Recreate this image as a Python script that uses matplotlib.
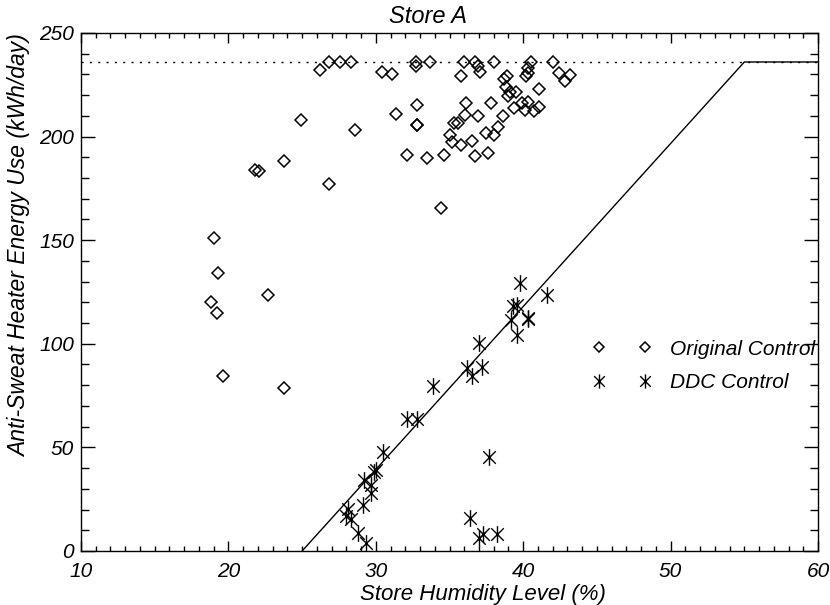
import matplotlib
matplotlib.use("Agg")
import matplotlib.pyplot as plt
from matplotlib.path import Path
import numpy as np

# Original control (diamonds)
orig_x = [26.8, 27.6, 28.3, 26.2, 24.9, 28.6, 23.8, 21.8, 22.1, 26.8,
          19.0, 19.3, 22.7, 18.8, 19.2, 19.6, 23.8,
          30.4, 31.1, 32.7, 32.7, 32.8, 33.7, 32.8, 31.4, 32.8, 32.1, 33.5,
          36.0, 36.7, 36.9, 37.1, 38.0, 35.8, 40.5, 40.3, 40.3, 40.2, 42.0,
          42.4, 42.8, 43.2, 38.9, 38.7, 38.8, 39.1, 39.5, 39.0, 41.1,
          36.1, 37.8, 36.05, 36.9, 39.4, 39.9, 40.3, 40.1, 40.7, 41.1, 38.6,
          35.3, 35.6, 35.0, 35.2, 35.8, 36.5, 37.5, 38.0, 38.3,
          34.6, 36.7, 37.6, 34.4]
orig_y = [236, 236, 236, 232, 208, 203, 188, 184, 183.5, 177,
          151, 134, 123.5, 120, 115, 84.5, 78.6,
          231, 230, 236, 234, 215, 236, 205.6, 211, 205.6, 191, 189.6,
          236, 236, 234, 231, 236, 229, 236, 233, 230.5, 229, 236,
          230.5, 227, 229.7, 229, 228, 224, 221.5, 221.5, 219.6, 223,
          216, 216, 210.4, 210, 213.8, 216, 216.7, 212.8, 212.4, 214.3, 210,
          206.6, 206.6, 200.8, 197.4, 196, 198, 201.7, 200.8, 204.6,
          191, 190.6, 192, 165.5]

# DDC control (asterisks)
ddc_x = [39.8, 41.6, 39.3, 39.6, 39.2, 40.3, 40.35, 39.6, 37.0, 36.2,
         37.2, 36.5, 33.9, 32.1, 32.8, 30.5, 37.7, 30.0, 29.9, 29.2,
         29.7, 29.7, 29.1, 28.1, 28.0, 28.3, 28.8, 29.3, 36.4, 37.0,
         37.3, 38.2]
ddc_y = [129.3, 123.6, 118.2, 118.7, 111.5, 112.4, 112.0, 104.2, 100.4, 88.3,
         88.8, 84.5, 79.6, 63.7, 63.7, 47.8, 45.4, 39.1, 38.1, 34.3,
         31.9, 28.0, 22.2, 20.3, 16.9, 15.4, 8.7, 3.9, 15.9, 6.3,
         8.2, 8.2]

# Control lines
line_x = [25, 55, 60]
line_y = [0, 236, 236]
limit_y = 236

title = "Store A"
xlabel = "Store Humidity Level (%)"
ylabel = "Anti-Sweat Heater Energy Use (kWh/day)"
labels = ["Original Control", "DDC Control"]

FONT = ['Liberation Sans Narrow', 'Liberation Sans', 'DejaVu Sans']
plt.rcParams['font.family'] = FONT
plt.rcParams['font.style'] = 'italic'

fig = plt.figure(figsize=(8.3, 6.05), dpi=100)
ax = fig.add_axes([0.0976, 0.0893, 0.888, 0.8562])

star = Path([(0, -1), (0, 1), (-0.75, -0.75), (0.75, 0.75), (-0.75, 0.75), (0.75, -0.75)],
            [Path.MOVETO, Path.LINETO, Path.MOVETO, Path.LINETO, Path.MOVETO, Path.LINETO])

ax.plot(orig_x, orig_y, linestyle='none', marker='D', markersize=6.5,
        markerfacecolor='none', markeredgecolor='black', markeredgewidth=1.1,
        label=labels[0])
ax.plot(ddc_x, ddc_y, linestyle='none', marker=star, markersize=12,
        markerfacecolor='none', markeredgecolor='black', markeredgewidth=1.0,
        label=labels[1])

ax.plot(line_x, line_y, color='black', lw=1.0)
ax.axhline(limit_y, color='black', lw=1.0, linestyle=(0, (1.5, 4.5)))

ax.set_xlim(10, 60)
ax.set_ylim(0, 250)
ax.set_xticks(np.arange(10, 61, 10))
ax.set_xticks(np.arange(10, 61, 1), minor=True)
ax.set_yticks(np.arange(0, 251, 50))
ax.set_yticks(np.arange(0, 251, 10), minor=True)

ax.tick_params(axis='both', which='both', direction='in', top=True, right=True,
               width=1.0, labelsize=15)
ax.tick_params(axis='x', which='major', length=7.5, pad=8)
ax.tick_params(axis='x', which='minor', length=3.8)
ax.tick_params(axis='y', which='major', length=10, pad=5)
ax.tick_params(axis='y', which='minor', length=5.5)

for s in ax.spines.values():
    s.set_linewidth(1.0)

ax.set_title(title, fontsize=17, x=0.471, pad=7)
ax.set_xlabel(xlabel, fontsize=16)
ax.xaxis.set_label_coords(0.545, -0.064)
ax.set_ylabel(ylabel, fontsize=16.5)
ax.yaxis.set_label_coords(-0.068, 0.59)

leg = ax.legend(loc='upper left', bbox_to_anchor=(0.672, 0.44), numpoints=2,
                frameon=False, handlelength=2.8,
                handletextpad=0.9, labelspacing=0.68, borderpad=0.3,
                prop={'style': 'italic', 'size': 15})
for h in leg.legend_handles:
    h.set_markersize(h.get_markersize() * 0.85)

fig.savefig("out.png", dpi=100)
